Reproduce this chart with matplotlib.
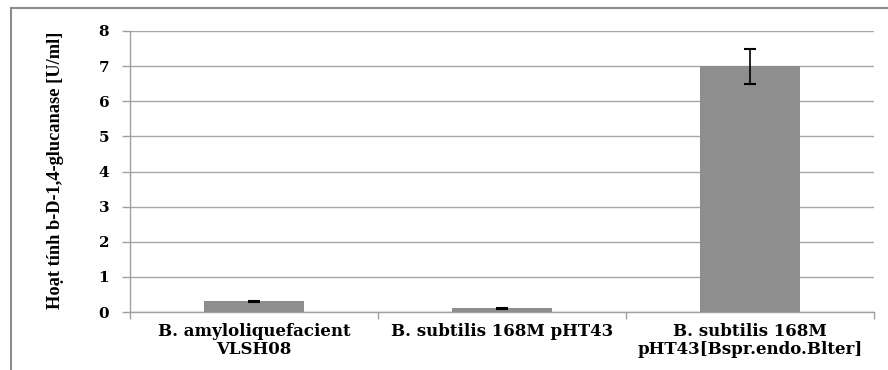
import matplotlib
matplotlib.use("Agg")
import matplotlib.pyplot as plt
from matplotlib.lines import Line2D

categories = ["B. amyloliquefacient\nVLSH08", "B. subtilis 168M pHT43", "B. subtilis 168M\npHT43[Bspr.endo.Blter]"]
values = [0.30, 0.10, 7.0]
errors = [0.02, 0.01, 0.5]
yticks = [0, 1, 2, 3, 4, 5, 6, 7, 8]
ylabel = "Hoạt tính b-D-1,4-glucanase [U/ml]"

fig = plt.figure(figsize=(8.88, 3.70), dpi=100)
ax = fig.add_axes([130/888, 1-312/370, (874-130)/888, (312-31)/370])

x = range(len(categories))
ax.bar(x, values, width=0.4, color="#8e8e8e", zorder=3)
ax.errorbar(x, values, yerr=errors, fmt="none", ecolor="black", elinewidth=1.2,
            capsize=4.5, capthick=1.5, zorder=4)

ax.set_xlim(-0.5, len(categories) - 0.5)
ax.set_ylim(0, 8)
ax.set_yticks(yticks)
ax.set_yticklabels([str(t) for t in yticks], fontfamily=["DejaVu Serif"], fontweight="bold", fontsize=11)
ax.yaxis.grid(True, color="#a6a6a6", linewidth=1.0, zorder=0)
ax.set_axisbelow(True)

ax.set_xticks([i for i in x])
ax.set_xticklabels(categories, fontfamily=["DejaVu Serif"], fontweight="bold", fontsize=12, linespacing=1.1)
ax.tick_params(axis="x", length=0, pad=8)
ax.set_xticks([-0.5, 0.5, 1.5, 2.5], minor=True)
ax.tick_params(axis="x", which="minor", length=5, color="#a0a0a0", width=1)
ax.tick_params(axis="y", length=6, color="#a0a0a0", width=1, pad=9)

for s in ["top", "right"]:
    ax.spines[s].set_visible(False)
for s in ["left", "bottom"]:
    ax.spines[s].set_color("#a0a0a0")
    ax.spines[s].set_linewidth(1.0)

fig.text(56/888, 1-170/370, ylabel, rotation=90, ha="center", va="center",
         fontfamily=["Liberation Serif"], fontweight="bold", fontsize=13.2)

fig.add_artist(Line2D([11/888, 11/888], [0, 1-8/370], color="#8c8c8c", linewidth=1.5))
fig.add_artist(Line2D([11/888, 1], [1-8/370, 1-8/370], color="#8c8c8c", linewidth=1.5))

fig.savefig("out.png", dpi=100)
